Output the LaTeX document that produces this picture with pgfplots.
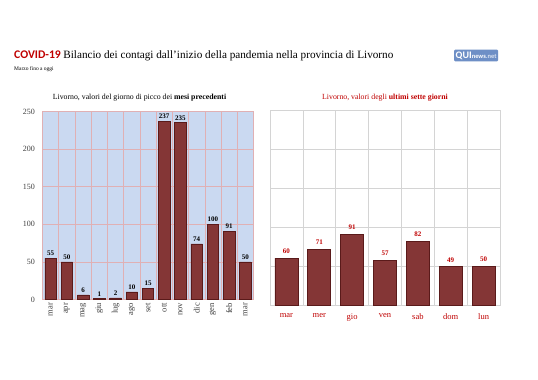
\documentclass[border=0pt]{standalone}
\usepackage{pgfplots}
\pgfplotsset{compat=1.18}
\usepackage{fontspec}
\setmainfont{Liberation Serif}
\newfontfamily\carlito{Carlito}
\definecolor{barred}{HTML}{843636}
\definecolor{barborder}{HTML}{5A1A1A}
\definecolor{bgblue}{HTML}{CAD9F1}
\definecolor{pinkgrid}{HTML}{E0B0B4}
\definecolor{titlered}{HTML}{C00000}
\definecolor{logoblue}{HTML}{6E8FC6}
\definecolor{gridgray}{HTML}{D4D4D4}
\definecolor{ticktext}{HTML}{404040}
\begin{document}
\begin{tikzpicture}
\fill[white] (0pt,0pt) rectangle (538pt,-380pt);
\node[anchor=base west, inner sep=0] at (14pt,-58pt) {{\carlito\bfseries\color{titlered}\fontsize{11.7}{14}\selectfont COVID-19} \fontsize{11.2}{14}\selectfont Bilancio dei contagi dall'inizio della pandemia nella provincia di Livorno};
\node[anchor=base west, inner sep=0] at (14pt,-70pt) {\fontsize{5.5}{6}\selectfont Marzo fino a oggi};
\node[fill=logoblue, rounded corners=1pt, inner xsep=1.5pt, inner ysep=2pt, anchor=west] at (454pt,-55.5pt) {\carlito\bfseries\color{white}\fontsize{10}{10}\selectfont QUI{\fontsize{6.5}{6.5}\selectfont news\color{white!75!logoblue}.net}};
\node[anchor=base, inner sep=0] at (139.5pt,-99pt) {\fontsize{7.8}{9}\selectfont Livorno, valori del giorno di picco dei \textbf{mesi precedenti}};
\node[anchor=base, inner sep=0] at (385pt,-99pt) {\fontsize{7.8}{9}\selectfont\color{titlered} Livorno, valori degli \textbf{ultimi sette giorni}};

\begin{axis}[at={(42.5pt,-299.5pt)}, anchor=south west, scale only axis,
  width=211pt, height=188pt,
  xmin=-0.5, xmax=12.5, ymin=0, ymax=250,
  ytick={0,50,...,250},
  xtick={0,...,12},
  xticklabels={mar,apr,mag,giu,lug,ago,set,ott,nov,dic,gen,feb,mar},
  x tick label style={rotate=90, anchor=east, font=\fontsize{8.5}{9}\selectfont, text=ticktext},
  y tick label style={font=\fontsize{8}{9}\selectfont, text=ticktext, xshift=-4pt},
  /pgf/number format/assume math mode=true,
  minor xtick={-0.5,0.5,...,12.5},
  xminorgrids, ymajorgrids,
  grid style={pinkgrid, line width=0.5pt},
  minor grid style={pinkgrid, line width=0.5pt},
  axis background/.style={fill=bgblue},
  axis line style={pinkgrid},
  major tick length=0pt, minor tick length=0pt,
  ybar, bar width=11.5pt,
  nodes near coords,
  nodes near coords style={font=\bfseries\fontsize{7}{8}\selectfont, text=black, yshift=-1pt},
]
\addplot[fill=barred, draw=barborder, line width=0.6pt] coordinates {
(0,55) (1,50) (2,6) (3,1) (4,2) (5,10) (6,15) (7,237) (8,235) (9,74) (10,100) (11,91) (12,50)};
\end{axis}

\begin{axis}[at={(270pt,-305pt)}, anchor=south west, scale only axis,
  width=230pt, height=195pt,
  xmin=-0.5, xmax=6.5, ymin=0, ymax=250,
  ytick={0,50,...,250}, yticklabels={},
  xtick={0,...,6},
  xticklabels={mar,mer,gio,ven,sab,dom,lun},
  x tick label style={font=\fontsize{8.5}{9}\selectfont, text=titlered, yshift=-5pt},
  /pgf/number format/assume math mode=true,
  minor xtick={-0.5,0.5,...,6.5},
  xminorgrids, ymajorgrids,
  grid style={gridgray, line width=0.6pt},
  minor grid style={gridgray, line width=0.6pt},
  axis line style={gridgray, line width=0.6pt},
  major tick length=0pt, minor tick length=0pt,
  ybar, bar width=23pt,
  nodes near coords,
  nodes near coords style={font=\bfseries\fontsize{7}{8}\selectfont, text=titlered, yshift=1pt},
]
\addplot[fill=barred, draw=barborder, line width=0.6pt] coordinates {
(0,60) (1,71) (2,91) (3,57) (4,82) (5,49) (6,50)};
\end{axis}
\end{tikzpicture}
\end{document}
